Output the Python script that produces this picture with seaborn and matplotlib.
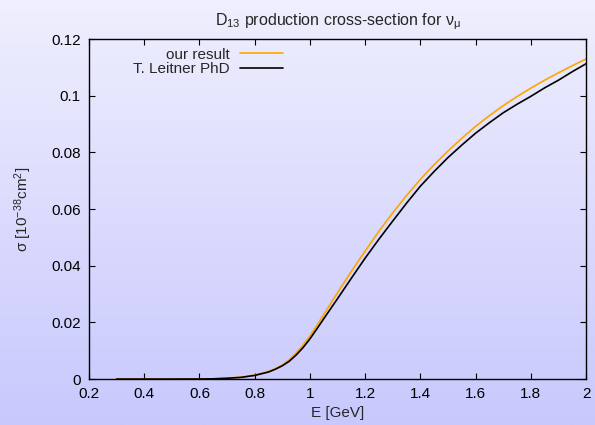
import numpy as np
import pandas as pd
import matplotlib
matplotlib.use("Agg")
import matplotlib.pyplot as plt
from matplotlib.colors import LinearSegmentedColormap
from matplotlib.ticker import FormatStrFormatter
import seaborn as sns

# energies [GeV]
energy = [0.3, 0.4, 0.5, 0.6, 0.65, 0.7, 0.75, 0.8, 0.85, 0.875, 0.9, 0.925,
          0.95, 0.975, 1.0, 1.025, 1.05, 1.1, 1.15, 1.2, 1.25, 1.3, 1.35, 1.4,
          1.45, 1.5, 1.55, 1.6, 1.65, 1.7, 1.75, 1.8, 1.85, 1.9, 1.95, 2.0]
# cross sections [1e-38 cm^2]
our_result = [0.0, 0.0, 0.0, 0.00003, 0.0001, 0.0003, 0.0007, 0.0014, 0.0027,
              0.0037, 0.0050, 0.0068, 0.0092, 0.0120, 0.0152, 0.0189, 0.0228,
              0.0305, 0.0380, 0.0452, 0.0522, 0.0587, 0.0648, 0.0705,
              0.0757, 0.0805, 0.0850, 0.0892, 0.0930, 0.0965, 0.0997, 0.1027,
              0.1055, 0.1081, 0.1106, 0.1130]
leitner = [0.0, 0.0, 0.0, 0.00003, 0.0001, 0.0003, 0.0006, 0.0013, 0.0025,
           0.0035, 0.0047, 0.0063, 0.0085, 0.0111, 0.0142, 0.0177, 0.0213,
           0.0284, 0.0356, 0.0427, 0.0494, 0.0558, 0.0621, 0.0681,
           0.0733, 0.0782, 0.0826, 0.0868, 0.0905, 0.0940, 0.0970, 0.0998,
           0.1028, 0.1055, 0.1085, 0.1113]

x_ticks = [0.2, 0.4, 0.6, 0.8, 1.0, 1.2, 1.4, 1.6, 1.8, 2.0]
y_ticks = [0, 0.02, 0.04, 0.06, 0.08, 0.1, 0.12]

df_ours = pd.DataFrame({"E": energy, "sigma": our_result})
df_leit = pd.DataFrame({"E": energy, "sigma": leitner})

sns.set_style("ticks")
plt.rcParams["font.family"] = ["Liberation Sans", "DejaVu Sans"]
plt.rcParams["mathtext.fontset"] = "custom"
plt.rcParams["mathtext.rm"] = "Liberation Sans"
plt.rcParams["mathtext.it"] = "Liberation Sans"
plt.rcParams["mathtext.default"] = "regular"

fig = plt.figure(figsize=(5.95, 4.25), dpi=100)

# gradient background
bg = fig.add_axes([0, 0, 1, 1], zorder=-1)
grad = np.linspace(0, 1, 256).reshape(-1, 1)
cmap = LinearSegmentedColormap.from_list("bg", ["#c8c8fd", "#efeffe"])
bg.imshow(grad, aspect="auto", cmap=cmap, origin="lower", extent=[0, 1, 0, 1])
bg.axis("off")

ax = fig.add_axes([0.1496, 0.108, 0.8354, 0.8])
ax.set_facecolor("none")

sns.lineplot(data=df_ours, x="E", y="sigma", color="#ffa500", lw=1.2,
             label="our result", ax=ax)
sns.lineplot(data=df_leit, x="E", y="sigma", color="black", lw=1.2,
             label="T. Leitner PhD", ax=ax)

ax.set_xlim(0.2, 2.0)
ax.set_ylim(0, 0.12)
ax.set_xticks(x_ticks)
ax.set_yticks(y_ticks)
ax.xaxis.set_major_formatter(FormatStrFormatter("%g"))
ax.yaxis.set_major_formatter(FormatStrFormatter("%g"))
ax.tick_params(direction="in", length=4, width=0.8, top=True, right=True,
               labelsize=11, colors="black", pad=6)
for s in ax.spines.values():
    s.set_visible(True)
    s.set_linewidth(1.0)
    s.set_color("black")

ax.set_xlabel("E [GeV]", fontsize=11, labelpad=3)
ax.set_ylabel(r"$\sigma$ [10$^{-38}$cm$^{2}$]", fontsize=11, labelpad=12)
ax.set_title(r"D$_{13}$ production cross-section for $\nu_{\mu}$",
             fontsize=11.5, pad=10)

ax.legend(loc="upper right", bbox_to_anchor=(0.39, 0.975), frameon=False,
          markerfirst=False, fontsize=11, handlelength=2.8, handletextpad=0.7,
          labelspacing=0.05, borderpad=0, borderaxespad=0)

fig.savefig("out.png", dpi=100)
